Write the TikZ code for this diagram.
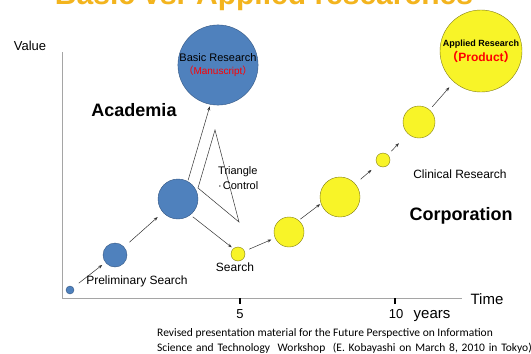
\documentclass[tikz,border=0pt]{standalone}
\usepackage{fontspec}
\setmainfont{Liberation Sans}
\newfontfamily\capfont{Carlito}
\newfontfamily\cjk{Noto Sans CJK JP}
\usetikzlibrary{arrows.meta}

\definecolor{resblue}{RGB}{79,129,189}
\definecolor{resblueline}{RGB}{52,86,130}
\definecolor{resyellow}{RGB}{248,244,40}
\definecolor{resyellowline}{RGB}{130,125,20}
\definecolor{titleorange}{RGB}{243,180,30}
\definecolor{axisgray}{RGB}{165,165,165}
\newcommand{\fs}[1]{\fontsize{#1}{#1}\selectfont}

\begin{document}
\begin{tikzpicture}[x = 1pt, y = -1pt,
    blueball/.style = {circle, fill = resblue, draw = resblueline, inner sep = 0pt, minimum size = #1pt},
    yellowball/.style = {circle, fill = resyellow, draw = resyellowline, inner sep = 0pt, minimum size = #1pt},
    link/.style = {-{Stealth[length = 4pt, width = 3pt]}, black!80, line width = 0.5pt},
    lbl/.style = {inner sep = 0pt, font = \fs{#1}}]

    \fill[white] (0, 0) rectangle (531, 354);
    \useasboundingbox (0, 0) rectangle (531, 354);
    \clip (0, 0) rectangle (531, 354);

    \node[anchor = base, text = titleorange, font = \fs{30}\bfseries] (title) at (264, 4) {Basic vs. Applied researches};

    % axes
    \draw[axisgray, line width = 0.8pt] (62, 52) -- (62, 298) -- (462, 298);
    \draw[line width = 1.6pt] (240, 298) -- (240, 304);
    \draw[line width = 1.6pt] (395, 298) -- (395, 304);

    \node[lbl = 13] (value) at (30, 46) {Value};
    \node[lbl = 15, anchor = base] (time) at (487, 304.5) {Time};
    \node[lbl = 13, anchor = base] (five) at (240, 318) {5};
    \node[lbl = 13, anchor = base] (ten) at (396, 318) {10};
    \node[lbl = 15, anchor = base] (years) at (432, 318) {years};

    % academia side
    \node[blueball = 8] (pre) at (70, 290) {};
    \node[blueball = 24] (b2) at (115, 255) {};
    \node[blueball = 40] (b3) at (178, 199) {};
    \node[blueball = 78, align = center] (basic) at (218, 65)
        {{\fs{11}Basic Research}\\[1pt]{\fs{10}\color{red}{\cjk （}Manuscript{\cjk ）}}};

    % corporation side
    \node[yellowball = 14] (search) at (238, 254) {};
    \node[yellowball = 30] (y2) at (289, 232) {};
    \node[yellowball = 40] (y3) at (340, 197) {};
    \node[yellowball = 14] (y4) at (383, 160) {};
    \node[yellowball = 32] (y5) at (419, 122) {};
    \node[yellowball = 82, align = center] (applied) at (481, 51)
        {{\fs{9}\bfseries Applied Research}\\[2pt]{\fs{12}\bfseries\color{red}{\cjk （}Product{\cjk ）}}};

    \draw[link, shorten <= 7pt, shorten >= 4pt] (pre) -- (b2);
    \draw[link, shorten <= 7pt, shorten >= 7pt] (b2) -- (b3);
    \draw[link, shorten <= 1pt, shorten >= 2pt] (b3.61) -- (basic.-101);
    \draw[link, shorten <= 3pt, shorten >= 2pt] (b3.-52) -- (search.131);
    \draw[link, shorten <= 5pt, shorten >= 4pt] (search) -- (y2);
    \draw[link, shorten <= 2pt, shorten >= 1pt] (y2.50) -- (y3.199);
    \draw[link, shorten <= 7pt, shorten >= 8pt] (y3) -- (y4);
    \draw[link, shorten <= 5pt, shorten >= 13pt] (y4) -- (y5);
    \draw[link, shorten <= 4pt, shorten >= 7pt] (y5) -- (applied);

    \draw[black!80, line width = 0.5pt] (215, 130) -- (198, 188) -- (239, 222) -- cycle;

    \node[lbl = 18, font = \fs{18}\bfseries] (academia) at (134, 110) {Academia};
    \node[lbl = 18, font = \fs{18}\bfseries] (corporation) at (461, 216) {Corporation};
    \node[lbl = 12] (clinical) at (460, 174) {Clinical Research};
    \node[lbl = 11, anchor = west] (triangle) at (218, 172) {Triangle};
    \node[lbl = 11, anchor = west] (control) at (218, 186) {·\kern1pt Control};
    \node[lbl = 12] (searchlbl) at (235, 267) {Search};
    \node[lbl = 12] (prelbl) at (137, 281) {Preliminary Search};

    \node[anchor = west, inner sep = 0pt, font = \capfont\fs{11.5}] (note1) at (157, 333)
        {Revised presentation material for the Future Perspective on Information};
    \node[anchor = west, inner sep = 0pt, font = \capfont\fs{11.5}] (note2) at (157, 348)
        {\spaceskip = 3.8pt Science and Technology\ \ Workshop\ \ (E. Kobayashi on March 8, 2010 in Tokyo)};

\end{tikzpicture}
\end{document}
